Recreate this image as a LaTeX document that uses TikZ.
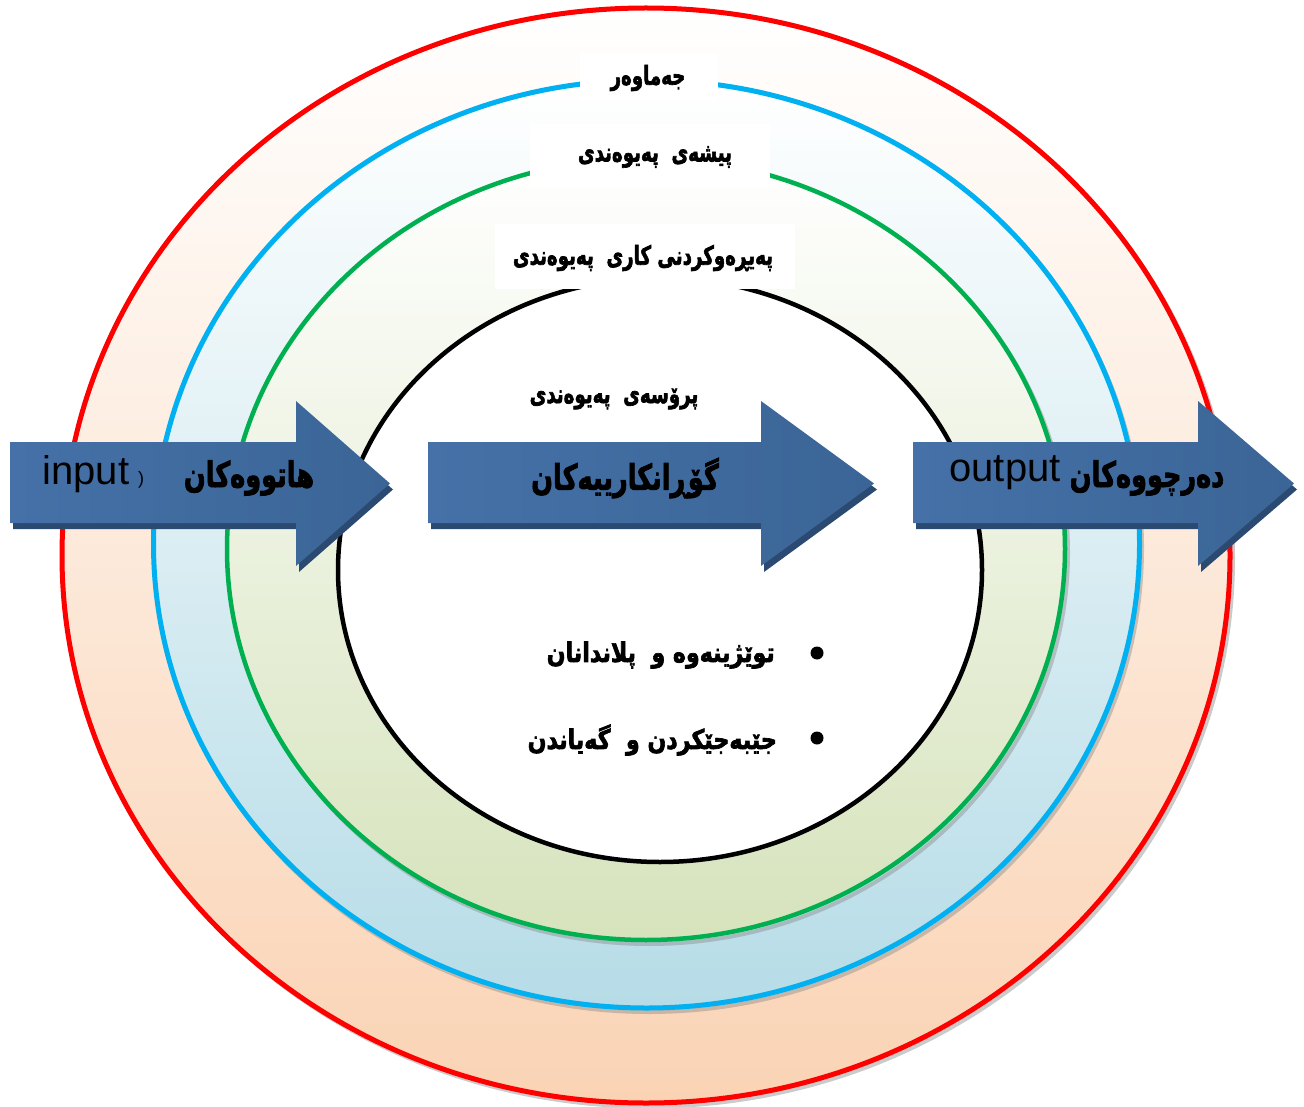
\documentclass[tikz,border=0pt]{standalone}
\usepackage{fontspec}
\setmainfont{Liberation Sans}
\newfontfamily\kb[Script=Arabic,FakeBold=2.6]{DejaVu Sans Bold}
\TeXXeTstate=1
\definecolor{redline}{HTML}{FF0000}
\definecolor{blueline}{HTML}{00B0F0}
\definecolor{greenline}{HTML}{00B050}
\definecolor{redbot}{HTML}{FAD3B4}
\definecolor{bluebot}{HTML}{B6DCE7}
\definecolor{greenbot}{HTML}{D6E3BC}
\definecolor{arrL}{HTML}{4571A8}
\definecolor{arrM}{HTML}{5286C4}
\definecolor{arrR}{HTML}{3B6596}
\definecolor{arrS}{HTML}{2B4A72}
\tikzset{
  ringshadow/.style={draw=black!45, opacity=0.45, line width=4},
  lbl/.style={inner sep=0pt, font=\kb},
  toplbl/.style={lbl, font=\kb\fontsize{26}{30}\selectfont, xscale=0.70, transform shape},
  arrlbl/.style={lbl, font=\kb\fontsize{35}{40}\selectfont, xscale=0.73, transform shape},
  bullbl/.style={lbl, anchor=east, font=\kb\fontsize{27}{31}\selectfont, xscale=0.82, transform shape},
  whitebox/.style={fill=white, draw=none, inner sep=0pt},
  arrowbody/.style={left color=arrL, middle color=arrM, right color=arrR},
  arrowshadow/.style={fill=arrS}
}
\begin{document}
\begin{tikzpicture}[x=1pt,y=-1pt]
\useasboundingbox (0,0) rectangle (1304,1107);
% rings
\draw[ringshadow] (649,559) ellipse [x radius=584, y radius=547.5];
\path[draw=redline, line width=5, top color=white, bottom color=redbot] (646,555.5) ellipse [x radius=584, y radius=547.5];
\draw[ringshadow] (649,548) ellipse [x radius=493, y radius=464];
\path[draw=blueline, line width=5, top color=white, bottom color=bluebot] (646.5,544) ellipse [x radius=493, y radius=464];
\draw[ringshadow] (649,553) ellipse [x radius=419, y radius=391];
\path[draw=greenline, line width=4.5, top color=white, bottom color=greenbot] (646,549) ellipse [x radius=419, y radius=391];
\path[draw=black, line width=4.5, fill=white] (660,570) ellipse [x radius=322, y radius=292];
% label boxes
\node[whitebox, minimum width=138, minimum height=47] (b1) at (649,78) {};
\node[whitebox, minimum width=240, minimum height=63] (b2) at (650,156) {};
\node[whitebox, minimum width=300, minimum height=65] (b3) at (645,257) {};
\node[toplbl] (t1) at (648,78) {\beginR جەماوەر\endR};
\node[toplbl] (t2) at (655,157) {\beginR پیشەی\ \ پەیوەندی\endR};
\node[toplbl] (t3) at (643,258) {\beginR پەیڕەوکردنی کاری\ \ پەیوەندی\endR};
\node[toplbl] (t4) at (614,399) {\beginR پرۆسەی\ \ پەیوەندی\endR};
% arrows
\foreach \a/\b/\c in {10/296/390, 428/761/874, 913/1198/1294} {
  \fill[arrowshadow, shift={(3,6)}] (\a,442) -- (\b,442) -- (\b,401) -- (\c,483.5) -- (\b,566) -- (\b,523) -- (\a,523) -- cycle;
  \shade[arrowbody] (\a,442) -- (\b,442) -- (\b,401) -- (\c,483.5) -- (\b,566) -- (\b,523) -- (\a,523) -- cycle;
}
\node[inner sep=0pt, font=\fontsize{40}{44}\selectfont] (in) at (86,474) {input};
\node[inner sep=0pt, font=\fontsize{18}{20}\selectfont] (par) at (141,480) {)};
\node[arrlbl] (a1) at (249,478) {\beginR هاتووەکان\endR};
\node[arrlbl] (a2) at (625,478) {\beginR گۆڕانکارییەکان\endR};
\node[inner sep=0pt, font=\fontsize{40}{44}\selectfont] (out) at (1005,473) {output};
\node[arrlbl] (a3) at (1147,478) {\beginR دەرچووەکان\endR};
% bullets
\node[bullbl] (l1) at (775,655) {\beginR توێژینەوە و\ \ پلاندانان\endR};
\node[bullbl] (l2) at (777,740) {\beginR جێبەجێکردن و\ \ گەیاندن\endR};
\fill (817,653) circle (6.5);
\fill (817,738) circle (6.5);
\end{tikzpicture}
\end{document}
